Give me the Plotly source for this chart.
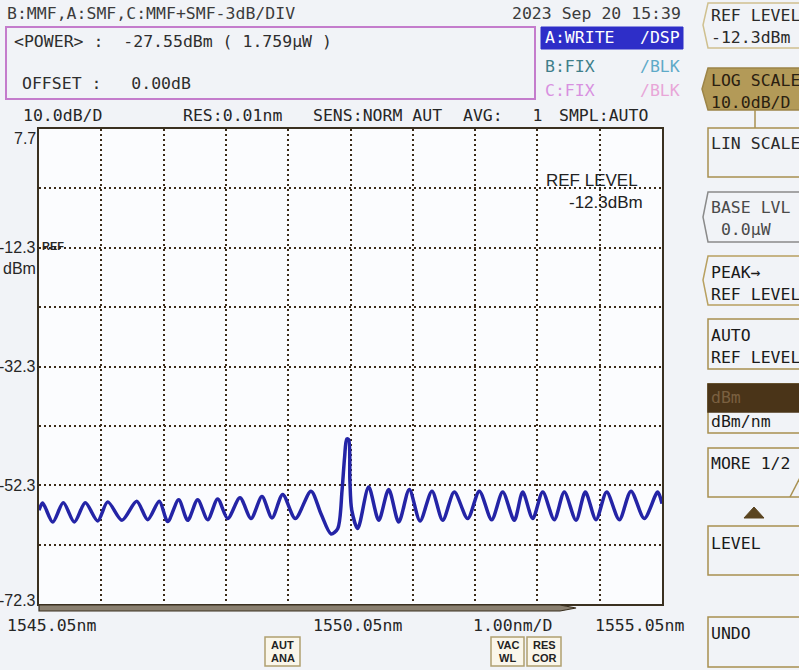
import plotly.graph_objects as go

# ---------------- data ----------------
wavelength_nm = [
    1545.05, 1545.109, 1545.270, 1545.440, 1545.617, 1545.793, 1545.992, 1546.153,
    1546.382, 1546.618, 1546.795, 1546.981, 1547.116, 1547.292, 1547.437, 1547.597,
    1547.758, 1547.918, 1548.079, 1548.276, 1548.453, 1548.629, 1548.790, 1548.962,
    1549.164, 1549.416, 1549.576, 1549.737, 1549.845, 1549.914, 1549.955, 1549.990,
    1550.020, 1550.040, 1550.070, 1550.166, 1550.342, 1550.503, 1550.663, 1550.824,
    1550.994, 1551.166, 1551.358, 1551.530, 1551.716, 1551.931, 1552.118, 1552.316,
    1552.493, 1552.679, 1552.814, 1552.975, 1553.135, 1553.321, 1553.482, 1553.670,
    1553.819, 1553.991, 1554.162, 1554.365, 1554.552, 1554.766, 1554.981, 1555.05,
]
power_dbm = [
    -56.5, -55.3, -58.5, -55.25, -58.5, -55.25, -58.3, -55.1,
    -58.2, -55.0, -58.1, -55.0, -58.4, -54.75, -58.2, -54.75,
    -58.1, -54.6, -57.9, -54.4, -57.9, -54.2, -57.8, -53.85,
    -57.9, -53.3, -57.1, -60.5, -59.6, -53.2, -47.6, -44.5,
    -44.6, -51.5, -56.5, -59.6, -52.6, -58.2, -53.0, -58.5,
    -53.0, -58.3, -53.3, -58.2, -53.45, -57.9, -53.3, -58.1,
    -53.45, -58.2, -53.45, -57.9, -53.45, -58.1, -53.45, -58.2,
    -53.45, -58.1, -53.45, -58.1, -53.3, -57.9, -53.45, -55.4,
]
x_range = [1545.05, 1555.05]
y_range = [-72.3, 7.7]
y_tick_vals = [7.7, -12.3, -32.3, -52.3, -72.3]
y_tick_text = ["7.7", "-12.3", "-32.3", "-52.3", "-72.3"]
x_tick_text = ["1545.05nm", "1550.05nm", "1.00nm/D", "1555.05nm"]

# ---------------- geometry helpers (pixel -> paper) ----------------
W, H = 799, 670
L, R, T, B = 39, 662, 129, 604

def fx(x):
    return (x - L) / (R - L)

def fy(y):
    return (B - y) / (B - T)

MONO = "DejaVu Sans Mono"
SANS = "Liberation Sans, Arial"

annotations = []

def txt(x, y, s, size=16.5, color="#2b2b2b", xa="left", family=MONO, bold=False):
    s = s.replace(" ", "\u00a0")
    if bold:
        s = "<b>" + s + "</b>"
    annotations.append(dict(
        x=fx(x), y=fy(y), xref="paper", yref="paper", text=s, showarrow=False,
        xanchor=xa, yanchor="middle", font=dict(family=family, size=size, color=color)))

shapes = []

def rect(x0, y0, x1, y1, line="#a89050", fill="rgba(0,0,0,0)", width=1.5):
    shapes.append(dict(type="rect", xref="paper", yref="paper",
                       x0=fx(x0), x1=fx(x1), y0=fy(y0), y1=fy(y1),
                       line=dict(color=line, width=width), fillcolor=fill, layer="above"))

def path(pts, line="#a89050", fill="rgba(0,0,0,0)", width=1.5, close=True):
    d = "M " + " L ".join(f"{fx(a):.5f},{fy(b):.5f}" for a, b in pts)
    if close:
        d += " Z"
    shapes.append(dict(type="path", xref="paper", yref="paper", path=d,
                       line=dict(color=line, width=width), fillcolor=fill, layer="above"))

def line(x0, y0, x1, y1, color="#a89050", width=1.5):
    shapes.append(dict(type="line", xref="paper", yref="paper",
                       x0=fx(x0), x1=fx(x1), y0=fy(y0), y1=fy(y1),
                       line=dict(color=color, width=width), layer="above"))

# ---------------- header ----------------
txt(5, 14, "B:MMF,A:SMF,C:MMF+SMF-3dB/DIV", color="#3c3c3c")
txt(683, 14, "2023 Sep 20 15:39", xa="right", color="#3c3c3c")
rect(6, 27, 535, 99, line="#c47ccc", width=2)
txt(12, 42, "&lt;POWER&gt; :  -27.55dBm ( 1.759μW )", color="#2e2e2e")
txt(20, 84, "OFFSET :   0.00dB", color="#2e2e2e")
rect(541, 27, 683, 49, line="#2e2ec8", fill="#2e2ec8", width=1)
txt(543, 38, "A:WRITE", color="#ffffff")
txt(682, 38, "/DSP", xa="right", color="#ffffff")
txt(543, 66, "B:FIX", color="#3f7e8a")
txt(682, 66, "/BLK", xa="right", color="#5eaac8")
txt(543, 90, "C:FIX", color="#d890e0")
txt(682, 90, "/BLK", xa="right", color="#e8a6d8")
txt(21, 115, "10.0dB/D", color="#262626")
txt(181, 115, "RES:0.01nm", color="#262626")
txt(311, 115, "SENS:NORM AUT", color="#262626")
txt(461, 115, "AVG:   1", color="#262626")
txt(557, 115, "SMPL:AUTO", color="#262626")

# ---------------- axis labels ----------------
YF = 16
txt(38, 138, y_tick_text[0], xa="right", family=SANS, size=YF, color="#262626")
for v, s in zip(y_tick_vals[1:], y_tick_text[1:]):
    yy = B - (v - y_range[0]) / (y_range[1] - y_range[0]) * (B - T)
    if v == y_range[0]:
        yy -= 4
    txt(38, yy, s, xa="right", family=SANS, size=YF, color="#262626")
txt(38, 268, "dBm", xa="right", family=SANS, size=YF, color="#262626")
txt(40, 246, "REF", family=SANS, size=11, color="#262626", bold=True)
txt(5, 625, x_tick_text[0], color="#262626")
txt(311, 625, x_tick_text[1], color="#262626")
txt(471, 625, x_tick_text[2], color="#262626")
txt(593, 625, x_tick_text[3], color="#262626")
txt(544, 180, "REF LEVEL", family=SANS, size=17, color="#222222")
txt(645, 202, "-12.3dBm", xa="right", family=SANS, size=17, color="#222222")

# under-axis bar
path([(39, 605), (560, 605), (576, 608), (560, 611), (39, 611)], line="#3a3020", fill="#8a8070", width=1.2)

# ---------------- bottom small keys ----------------
for (x0, x1, a, b) in [(265, 300, "AUT", "ANA"), (491, 524, "VAC", "WL"), (527, 561, "RES", "COR")]:
    rect(x0, 637, x1, 666, line="#b0a070", fill="#faf6ea", width=1.5)
    txt((x0 + x1) / 2, 645, a, xa="center", family=SANS, size=11, color="#222", bold=True)
    txt((x0 + x1) / 2, 658, b, xa="center", family=SANS, size=11, color="#222", bold=True)

# ---------------- right soft-key panel ----------------
RX = 810
path([(708, 3), (RX, 3), (RX, 48), (708, 48), (703, 25)], line="#cfc090")
txt(709, 15, "REF LEVEL", color="#2a2a2a")
txt(709, 38, "-12.3dBm", color="#2a2a2a")
path([(708, 68), (RX, 68), (RX, 110), (708, 110), (702, 89)], line="#9c8448", fill="#b39a58")
txt(709, 80, "LOG SCALE", color="#2a2010")
txt(709, 102, "10.0dB/D", color="#2a2010")
line(755, 110, 755, 128)
rect(708, 128, RX, 177)
txt(709, 143, "LIN SCALE", color="#2a2a2a")
path([(708, 192), (RX, 192), (RX, 242), (708, 242), (703, 217)], line="#8a8a8a")
txt(709, 207, "BASE LVL", color="#4a4a4a")
txt(709, 229, " 0.0μW", color="#4a4a4a")
path([(708, 256), (RX, 256), (RX, 305), (708, 305), (703, 280)], line="#b8a060")
txt(709, 272, "PEAK→", color="#1a1a1a")
txt(709, 294, "REF LEVEL", color="#1a1a1a")
rect(708, 319, RX, 369)
txt(709, 335, "AUTO", color="#1a1a1a")
txt(709, 357, "REF LEVEL", color="#1a1a1a")
rect(708, 384, RX, 433)
rect(708, 384, RX, 412, line="#4a3418", fill="#4a3418")
txt(709, 397, "dBm", color="#7a6040")
txt(709, 421, "dBm/nm", color="#1a1a1a")
rect(708, 448, RX, 497)
line(790, 497, 804, 470)
txt(709, 463, "MORE 1/2", color="#1a1a1a")
path([(744, 518), (764, 518), (754, 507)], line="#5a4420", fill="#5a4420", width=1)
rect(708, 526, RX, 575)
txt(709, 543, "LEVEL", color="#1a1a1a")
rect(708, 617, RX, 667)
txt(709, 633, "UNDO", color="#1a1a1a")

# ---------------- figure ----------------
fig = go.Figure()
fig.add_trace(go.Scatter(
    x=wavelength_nm, y=power_dbm, mode="lines",
    line=dict(color="#2424a6", width=3.5, shape="spline", smoothing=0.8),
    hoverinfo="skip", showlegend=False))

grid = dict(showgrid=True, gridcolor="#3a2a18", gridwidth=1.6, griddash="2px,3px",
            showline=True, linecolor="#3a3020", linewidth=2, mirror=True,
            zeroline=False, showticklabels=False, ticks="", fixedrange=True)
fig.update_xaxes(range=x_range, tick0=x_range[0], dtick=1, **grid)
fig.update_yaxes(range=y_range, tick0=y_range[0], dtick=10, **grid)

fig.update_layout(
    width=W, height=H, autosize=False,
    margin=dict(l=L, r=W - R, t=T, b=H - B, pad=0),
    paper_bgcolor="#f1f3f7", plot_bgcolor="#fbfcfe",
    annotations=annotations, shapes=shapes, showlegend=False,
)
fig.write_html("out.html")
